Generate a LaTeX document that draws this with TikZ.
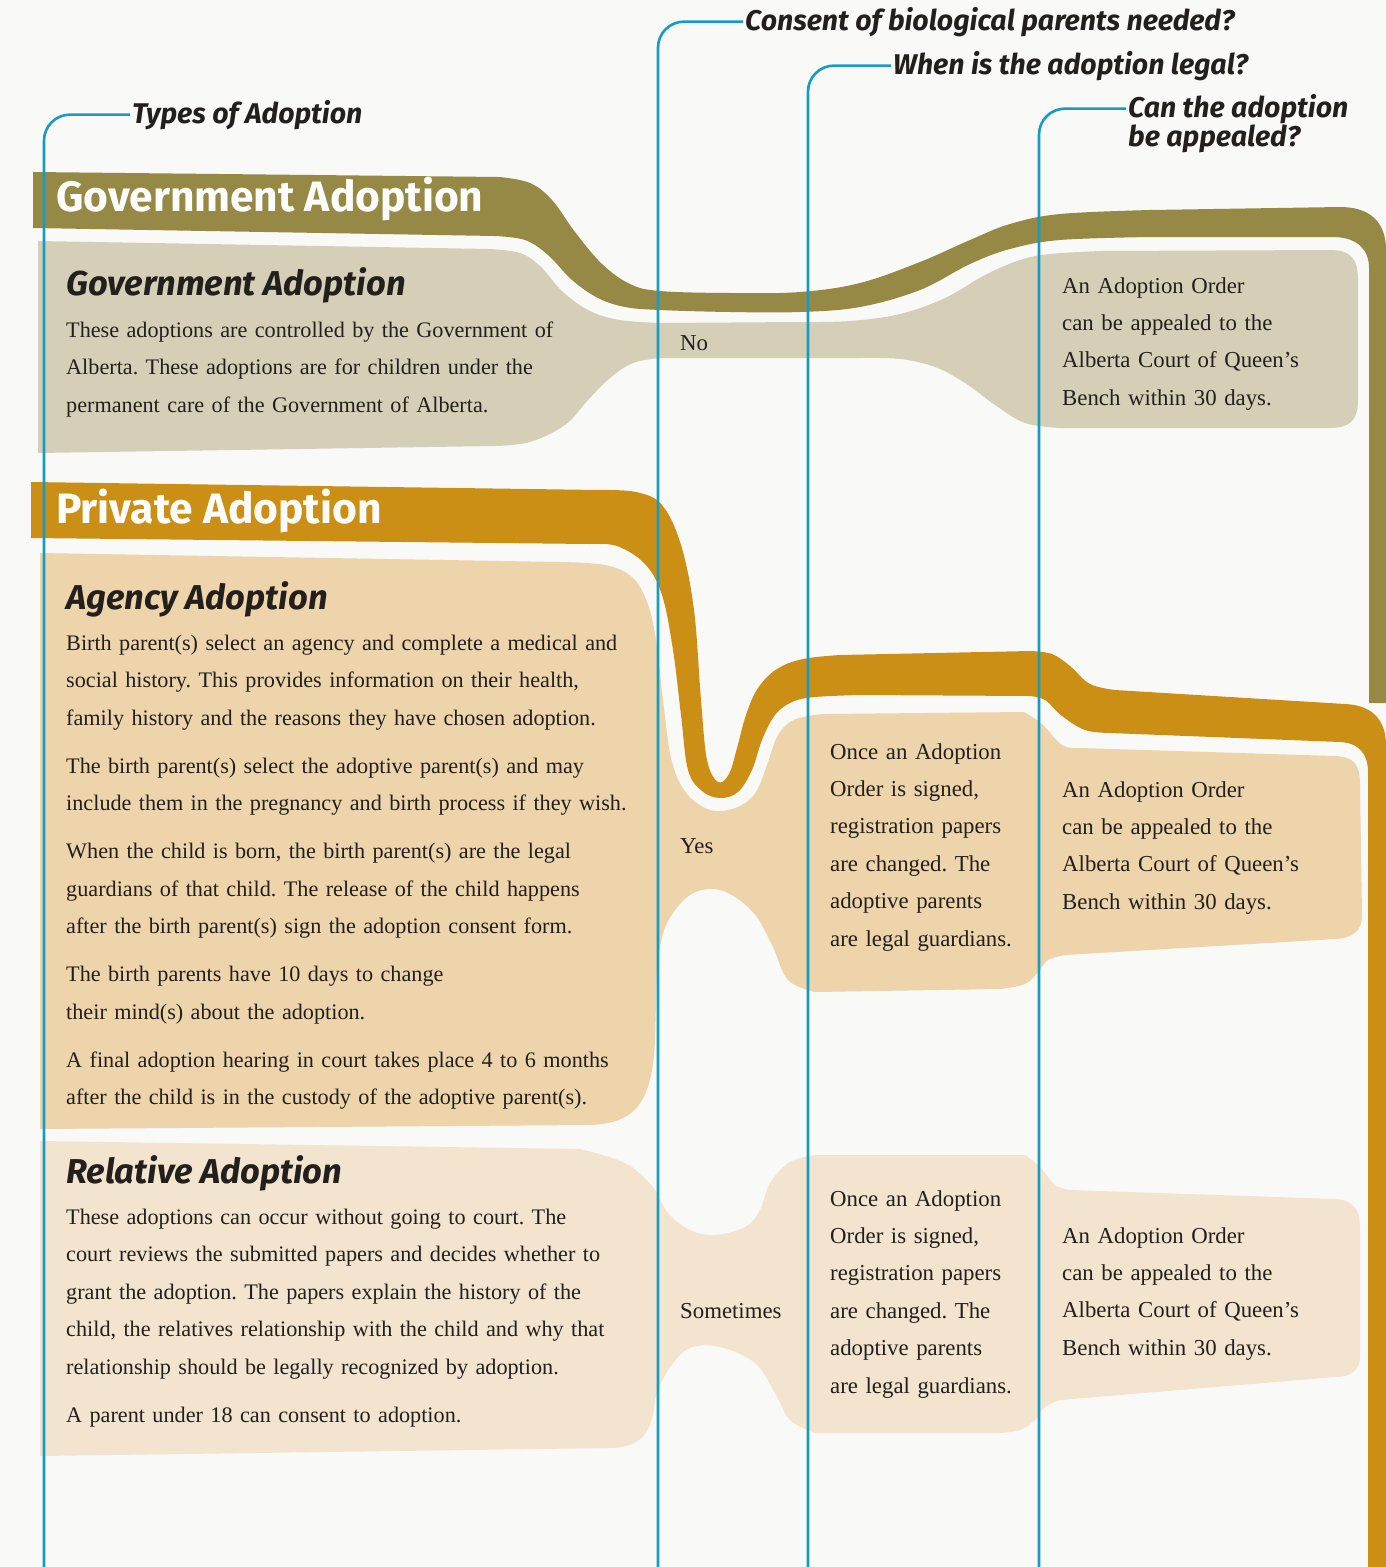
\documentclass[tikz,border=0pt]{standalone}
\usepackage{fontspec}
\setmainfont{Liberation Serif}
\newfontfamily\headfont{Fira Sans}
\usepackage{xcolor}
\usepackage{tikz}
\usetikzlibrary{positioning}

\definecolor{paper}{RGB}{249,249,248}
\definecolor{guideblue}{RGB}{22,156,194}
\definecolor{olive}{RGB}{150,137,70}
\definecolor{olivelight}{RGB}{214,207,183}
\definecolor{gold}{RGB}{204,143,22}
\definecolor{goldlight}{RGB}{237,212,171}
\definecolor{goldpale}{RGB}{242,228,206}
\definecolor{ink}{RGB}{35,31,28}

\begin{document}
\frenchspacing
\begin{tikzpicture}[
  x=1pt, y=-1pt,
  qtitle/.style={font={\headfont\bfseries\itshape\fontsize{28.5}{32}\selectfont}, text=ink, anchor=base west, inner sep=2pt},
  band/.style={font={\headfont\bfseries\fontsize{42.5}{48}\selectfont}, text=white, anchor=base west, inner sep=0pt},
  ptitle/.style={font={\headfont\bfseries\itshape\fontsize{34.5}{40}\selectfont}, text=ink, anchor=base west, inner sep=0pt},
  bodytxt/.style={font=\fontsize{22.2}{37.5}\selectfont, text=ink, anchor=base west, inner sep=0pt, align=left, text width=#1},
  bodytxt/.default=620pt,
  celltxt/.style={font=\fontsize{22.8}{37.4}\selectfont, text=ink, anchor=base west, inner sep=0pt, align=left, text width=#1},
  celltxt/.default=300pt,
  cell/.style={font=\fontsize{22.8}{37.5}\selectfont, text=ink, anchor=base west, inner sep=0pt},
  guide/.style={draw=guideblue, line width=2.6pt, rounded corners=26pt},
  curvy/.style={smooth, tension=.6}
]
  \useasboundingbox (0,0) rectangle (1386,1567);
  \fill[paper] (0,0) rectangle (1386,1567);

  %---------------- GOVERNMENT ----------------%
  \fill[olive] (33,172) -- (500,177)
    -- plot[curvy] coordinates {(500,177) (530,183) (552,200) (575,232) (602,264) (630,284) (660,291) (730,293) (800,292) (860,283) (920,262) (970,240) (1010,224) (1060,214) (1150,210)}
    -- (1340,207) .. controls (1370,207) and (1386,222) .. (1386,250)
    -- (1386,703) -- (1369,703) -- (1369,268) .. controls (1369,250) and (1358,238) .. (1335,237)
    -- (1150,237)
    -- plot[curvy] coordinates {(1150,237) (1060,240) (1010,249) (970,264) (920,290) (860,307) (800,312) (730,312) (660,310) (625,307) (598,298) (572,280) (548,255) (525,240) (495,236)}
    -- (33,228) -- cycle;

  \fill[olivelight] (38,241) -- (490,249)
    -- plot[curvy] coordinates {(490,249) (520,253) (540,266) (563,292) (590,311) (620,320) (660,323)}
    -- (800,322)
    -- plot[curvy] coordinates {(800,322) (850,321) (900,314) (945,298) (985,275) (1020,260) (1050,254) (1100,251)}
    -- (1330,250) .. controls (1352,250) and (1358,260) .. (1358,280)
    -- (1358,400) .. controls (1358,420) and (1350,428) .. (1330,428)
    -- (1060,428)
    -- plot[curvy] coordinates {(1060,428) (1025,423) (995,405) (965,383) (935,367) (900,359) (860,358)}
    -- (660,358)
    -- plot[curvy] coordinates {(660,358) (633,363) (610,378) (588,400) (565,425) (530,442) (495,446)}
    -- (38,453) -- cycle;

  %---------------- PRIVATE ----------------%
  \fill[gold] (31,482) -- (600,490)
    -- plot[curvy] coordinates {(600,490) (636,492) (662,505) (681,545) (694,610) (701,700) (707,760) (718,782) (729,774) (737,748) (746,715) (758,688) (777,669) (803,659) (840,655)}
    -- (1030,651)
    -- plot[curvy] coordinates {(1030,651) (1052,654) (1070,666) (1090,684) (1115,690)}
    -- (1345,704) .. controls (1372,705) and (1386,720) .. (1386,745)
    -- (1386,1567) -- (1368,1567) -- (1368,772) .. controls (1368,755) and (1360,743) .. (1340,742)
    -- (1110,733)
    -- plot[curvy] coordinates {(1110,733) (1085,730) (1062,716) (1045,700) (1030,696)}
    -- (860,695)
    -- plot[curvy] coordinates {(860,695) (815,697) (792,702) (775,715) (762,740) (752,770) (738,792) (720,798) (702,791) (688,770) (681,715) (673,650) (662,595) (645,564) (617,546) (590,544)}
    -- (31,538) -- cycle;

  \fill[goldlight] (40,553) -- (560,562)
    -- plot[curvy] coordinates {(560,562) (605,565) (632,577) (647,602) (656,640) (663,700) (671,758) (684,790) (703,807) (720,811) (740,806) (756,792) (767,765) (777,737) (790,722) (808,716) (825,714)}
    -- (1024,712)
    -- plot[curvy] coordinates {(1024,712) (1042,724) (1062,745) (1080,748)}
    -- (1335,756) .. controls (1355,757) and (1360,765) .. (1360,785)
    -- (1362,915) .. controls (1362,932) and (1352,938) .. (1335,939)
    -- (1065,955)
    -- plot[curvy] coordinates {(1065,955) (1048,960) (1038,972) (1025,984) (1000,989)}
    -- (815,992)
    -- plot[curvy] coordinates {(815,992) (788,980) (772,945) (752,911) (720,890) (690,895) (666,925) (657,965)}
    -- (655,1040) .. controls (652,1110) and (630,1123) .. (590,1125)
    -- (40,1129) -- cycle;

  \fill[goldpale] (40,1141) -- (580,1149)
    -- plot[curvy] coordinates {(580,1149) (625,1163) (652,1186) (668,1213) (690,1230) (715,1235) (745,1227) (760,1210) (770,1183) (790,1162) (815,1155)}
    -- (1025,1155)
    -- plot[curvy] coordinates {(1025,1155) (1040,1167) (1055,1185) (1070,1190)}
    -- (1335,1199) .. controls (1354,1200) and (1360,1210) .. (1360,1228)
    -- (1360,1355) .. controls (1360,1370) and (1352,1377) .. (1335,1377)
    -- (1060,1400)
    -- plot[curvy] coordinates {(1060,1400) (1045,1407) (1035,1420) (1020,1430) (1000,1433)}
    -- (815,1433)
    -- plot[curvy] coordinates {(815,1433) (790,1420) (775,1393) (755,1363) (720,1347) (690,1348) (670,1367) (657,1392)}
    -- (655,1400) .. controls (652,1435) and (640,1447) .. (610,1448)
    -- (40,1456) -- cycle;

  %---------------- TEXT ----------------%
  \node[band] (hgov) at (56,211) {Government Adoption};
  \node[band] (hpriv) at (56,523) {Private Adoption};

  \node[ptitle] (pgov) at (66,295) {Government Adoption};
  \node[bodytxt] (bgov) at (66,337) {These adoptions are controlled by the Government of\\Alberta. These adoptions are for children under the\\permanent care of the Government of Alberta.};

  \node[ptitle] (pagency) at (66,609) {Agency Adoption};
  \node[bodytxt] (bagency) at (66,650) {Birth parent(s) select an agency and complete a medical and\\social history. This provides information on their health,\\family history and the reasons they have chosen adoption.\\[10.5pt]The birth parent(s) select the adoptive parent(s) and may\\include them in the pregnancy and birth process if they wish.\\[10.5pt]When the child is born, the birth parent(s) are the legal\\guardians of that child. The release of the child happens\\after the birth parent(s) sign the adoption consent form.\\[10.5pt]The birth parents have 10 days to change\\their mind(s) about the adoption.\\[10.5pt]A final adoption hearing in court takes place 4 to 6 months\\after the child is in the custody of the adoptive parent(s).};

  \node[ptitle] (prelative) at (66,1183) {Relative Adoption};
  \node[bodytxt] (brelative) at (66,1224) {These adoptions can occur without going to court. The\\court reviews the submitted papers and decides whether to\\grant the adoption. The papers explain the history of the\\child, the relatives relationship with the child and why that\\relationship should be legally recognized by adoption.\\[10.5pt]A parent under 18 can consent to adoption.};

  \node[cell] (cno) at (680,350) {No};
  \node[cell] (cyes) at (680,853) {Yes};
  \node[cell] (csome) at (680,1318) {Sometimes};

  \node[celltxt=230pt] (lagency) at (830,759) {Once an Adoption\\Order is signed,\\registration papers\\are changed. The\\adoptive parents\\are legal guardians.};
  \node[celltxt=230pt] (lrelative) at (830,1206) {Once an Adoption\\Order is signed,\\registration papers\\are changed. The\\adoptive parents\\are legal guardians.};

  \node[celltxt] (agov) at (1062,293) {An Adoption Order\\can be appealed to the\\Alberta Court of Queen’s\\Bench within 30 days.};
  \node[celltxt] (aagency) at (1062,797) {An Adoption Order\\can be appealed to the\\Alberta Court of Queen’s\\Bench within 30 days.};
  \node[celltxt] (arelative) at (1062,1243) {An Adoption Order\\can be appealed to the\\Alberta Court of Queen’s\\Bench within 30 days.};

  %---------------- COLUMN GUIDES ----------------%
  \node[qtitle] (ttypes) at (130,123) {Types of Adoption};
  \node[qtitle] (tconsent) at (743,30) {Consent of biological parents needed?};
  \node[qtitle] (tlegal) at (891,74) {When is the adoption legal?};
  \node[qtitle] (tcan) at (1126,117) {Can the adoption};
  \node[qtitle, below=-3pt of tcan.south west, anchor=north west] (tcan2) {be appealed?};

  \coordinate (gtypes) at (44,1567);
  \coordinate (gconsent) at (658,1567);
  \coordinate (glegal) at (808,1567);
  \coordinate (gcan) at (1039,1567);

  \draw[guide] (gtypes) |- (ttypes.west);
  \draw[guide] (gconsent) |- (tconsent.west);
  \draw[guide] (glegal) |- (tlegal.west);
  \draw[guide] (gcan) |- (tcan.west);

\end{tikzpicture}
\end{document}
